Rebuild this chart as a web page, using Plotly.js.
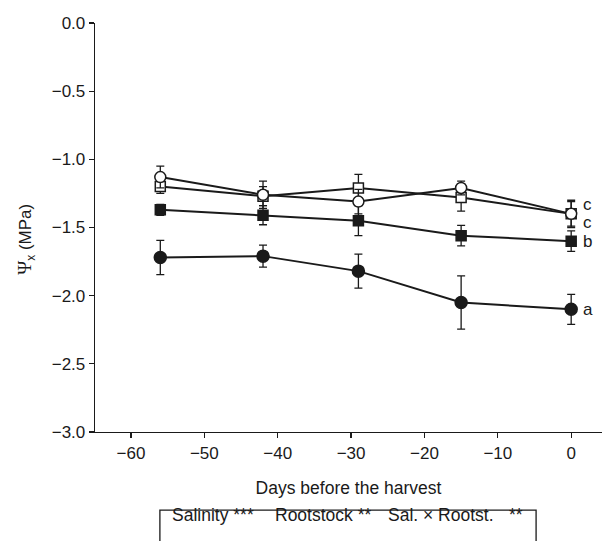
<!DOCTYPE html>
<html>
<head>
<meta charset="utf-8">
<script src="https://cdn.plot.ly/plotly-3.0.1.min.js"></script>
<style>html,body{margin:0;padding:0;background:#fff;}#chart{width:602px;height:541px;}</style>
</head>
<body>
<div id="chart"></div>
<script>
const days = [-56, -42, -29, -15, 0];

const filledCircle = [-1.72, -1.71, -1.82, -2.05, -2.10];
const filledCircleErr = [0.125, 0.08, 0.125, 0.195, 0.11];

const filledSquare = [-1.37, -1.41, -1.45, -1.56, -1.60];
const filledSquareErr = [0.04, 0.07, 0.11, 0.075, 0.075];

const openCircle = [-1.13, -1.26, -1.31, -1.21, -1.40];
const openCircleErr = [0.08, 0.10, 0.09, 0.05, 0.10];

const openSquare = [-1.20, -1.27, -1.21, -1.28, -1.40];
const openSquareErr = [0.05, 0.07, 0.10, 0.10, 0.09];

const letterLabels = ['c', 'c', 'b', 'a'];
const letterY = [-1.33, -1.46, -1.60, -2.10];

const yTicks = [0, -0.5, -1.0, -1.5, -2.0, -2.5, -3.0];
const xTicks = [-60, -50, -40, -30, -20, -10, 0];

const boxTexts = ['Salinity ***', 'Rootstock **', 'Sal. × Rootst.', '**'];
const boxTextX = [0.148, 0.351, 0.574, 0.812];

const FONT = '"Liberation Sans Narrow", "Arial Narrow", "Liberation Sans", Arial, sans-serif';
const FS = 17;

function series(y, err, symbol, size, fill) {
  return {
    x: days, y: y, type: 'scatter', mode: 'lines+markers',
    line: {color: '#1a1a1a', width: 2},
    marker: {symbol: symbol, size: size, color: fill, line: {color: '#1a1a1a', width: 1.5}},
    error_y: {type: 'data', array: err, visible: true, color: '#1a1a1a', thickness: 1.3, width: 4},
    showlegend: false, cliponaxis: false
  };
}

const data = [
  series(filledCircle, filledCircleErr, 'circle', 12, '#1a1a1a'),
  series(filledSquare, filledSquareErr, 'square', 10, '#1a1a1a'),
  series(openSquare, openSquareErr, 'square', 10, '#ffffff'),
  series(openCircle, openCircleErr, 'circle', 11, '#ffffff')
];

const annotations = letterLabels.map((t, i) => ({
  x: 0, y: letterY[i], xref: 'x', yref: 'y', text: t, showarrow: false,
  xanchor: 'left', xshift: 10, font: {family: FONT, size: FS, color: '#1a1a1a'}
}));
boxTexts.forEach((t, i) => annotations.push({
  xref: 'paper', yref: 'paper', x: boxTextX[i], y: -0.232, showarrow: false,
  xanchor: 'left', text: t, font: {family: FONT, size: 17.5, color: '#1a1a1a'}
}));
annotations.push({
  xref: 'paper', yref: 'paper', x: -0.136, y: 0.47, showarrow: false, textangle: -90,
  xanchor: 'center', yanchor: 'middle',
  text: '<span style="font-family:Liberation Serif, serif;font-size:19px">\u03A8</span><sub>x</sub> (MPa)',
  font: {family: FONT, size: FS, color: '#1a1a1a'}
});

const layout = {
  width: 602, height: 541,
  margin: {l: 95, r: 0, t: 23, b: 109},
  paper_bgcolor: '#ffffff', plot_bgcolor: '#ffffff',
  font: {family: FONT, size: FS, color: '#1a1a1a'},
  xaxis: {
    range: [-64.9, 4.2], tickvals: xTicks, ticktext: xTicks.map(v => v < 0 ? '\u2212' + Math.abs(v) : String(v)),
    showline: true, linecolor: '#1a1a1a', linewidth: 1.3, ticks: 'outside', ticklen: 5, tickwidth: 1.3,
    tickcolor: '#1a1a1a', showgrid: false, zeroline: false,
    title: {text: 'Days before the harvest', standoff: 20, font: {family: FONT, size: 17.5}}
  },
  yaxis: {
    range: [-3.0, 0.0], tickvals: yTicks, ticktext: yTicks.map(v => (v < 0 ? '\u2212' : '') + Math.abs(v).toFixed(1)),
    showline: true, linecolor: '#1a1a1a', linewidth: 1.3, ticks: 'outside', ticklen: 5, tickwidth: 1.3,
    tickcolor: '#1a1a1a', showgrid: false, zeroline: false
  },
  shapes: [{
    type: 'rect', xref: 'paper', yref: 'paper', x0: 0.128, x1: 0.870, y0: -0.32, y1: -0.191,
    line: {color: '#1a1a1a', width: 1.3}, fillcolor: 'rgba(0,0,0,0)'
  }],
  annotations: annotations
};

Plotly.newPlot('chart', data, layout, {displayModeBar: false, staticPlot: true});
</script>
</body>
</html>
